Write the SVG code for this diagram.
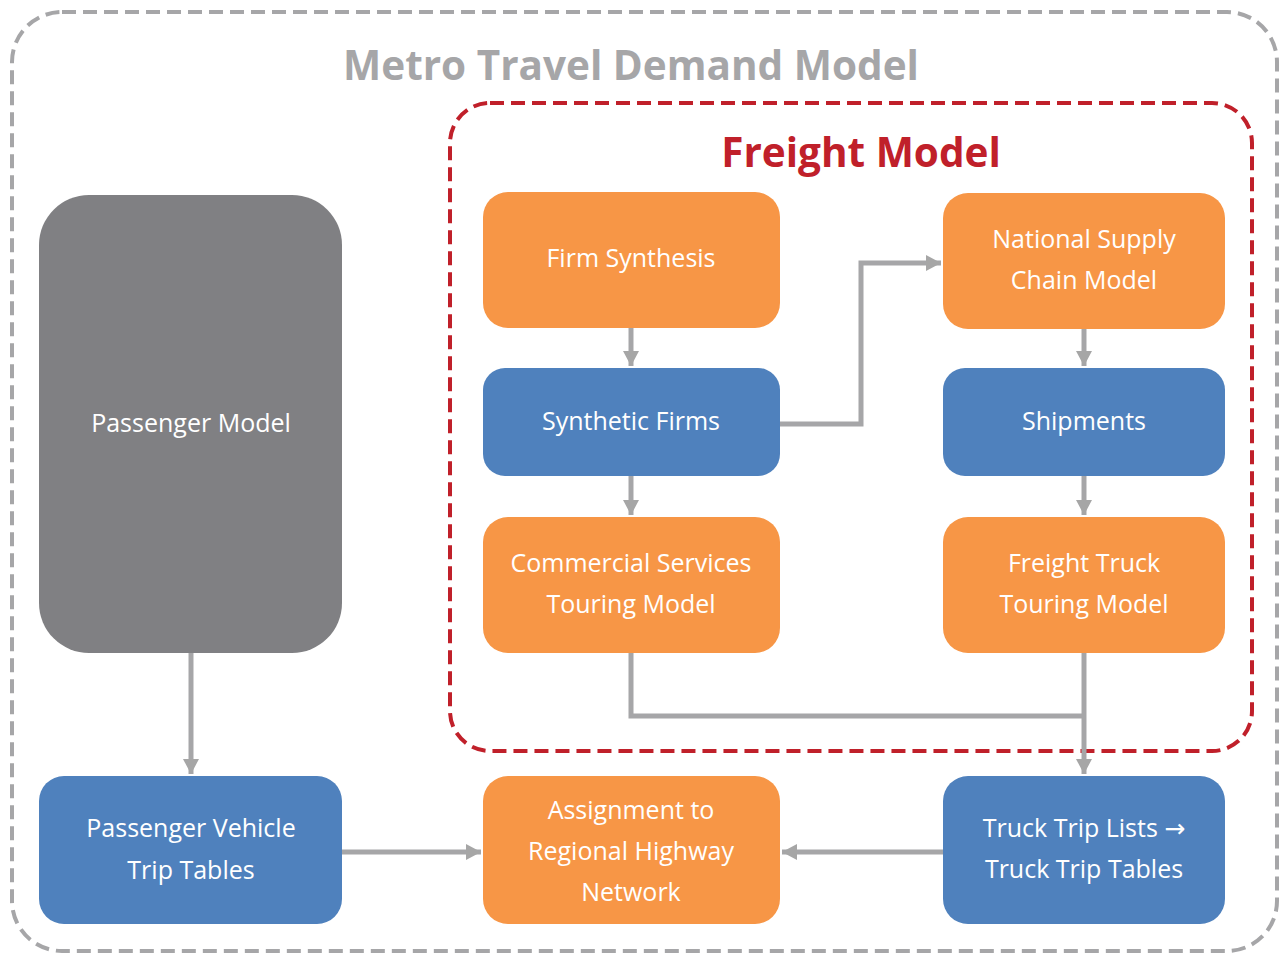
<svg xmlns="http://www.w3.org/2000/svg" width="1285" height="956" viewBox="0 0 1285 956">
<defs>
<marker id="ah" markerWidth="4" markerHeight="4" refX="3" refY="2" orient="auto" markerUnits="strokeWidth">
<path d="M0,0.4 L3,2 L0,3.6 Z" fill="#a6a6a6"/>
</marker>
<style>
.t{font-family:"Open Sans","Noto Sans","Liberation Sans",sans-serif;font-size:25px;fill:#ffffff;text-anchor:middle}
.or{fill:#f79646}
.bl{fill:#4f81bd}
.gr{fill:#808083}
.c{fill:none;stroke:#a6a6a8;stroke-width:5;marker-end:url(#ah)}
.cn{fill:none;stroke:#a6a6a8;stroke-width:5}
</style>
</defs>
<rect width="1285" height="956" fill="#ffffff"/>
<g id="metro">
<rect x="12" y="12" width="1265" height="939" rx="50" fill="none" stroke="#a6a6a8" stroke-width="4" stroke-dasharray="14 7"/>
<text x="631" y="80" font-family="'Open Sans','Noto Sans','Liberation Sans',sans-serif" font-size="40.5" font-weight="bold" fill="#a6a6a8" text-anchor="middle">Metro Travel Demand Model</text>
</g>
<g id="freight">
<rect x="450" y="103" width="802" height="648" rx="40" fill="none" stroke="#c0202a" stroke-width="4" stroke-dasharray="14 7"/>
<text x="861" y="167" font-family="'Open Sans','Noto Sans','Liberation Sans',sans-serif" font-size="40.5" font-weight="bold" fill="#c0202a" text-anchor="middle">Freight Model</text>
</g>
<g id="connectors">
<path class="c" d="M631,328 V366"/>
<path class="c" d="M780,424 H861 V263 H941"/>
<path class="c" d="M1084,329 V366"/>
<path class="c" d="M631,476 V515"/>
<path class="c" d="M1084,476 V515"/>
<path class="cn" d="M631,653 V716 H1084"/>
<path class="c" d="M1084,653 V774"/>
<path class="c" d="M191,653 V774"/>
<path class="c" d="M342,852 H481"/>
<path class="c" d="M943,852 H782"/>
</g>
<g id="firm-synthesis">
<rect class="or" x="483" y="192" width="297" height="136" rx="25"/>
<text class="t" x="631" y="267">Firm Synthesis</text>
</g>
<g id="national-supply-chain">
<rect class="or" x="943" y="193" width="282" height="136" rx="25"/>
<text class="t" x="1084" y="248">National Supply</text>
<text class="t" x="1084" y="289">Chain Model</text>
</g>
<g id="synthetic-firms">
<rect class="bl" x="483" y="368" width="297" height="108" rx="22"/>
<text class="t" x="631" y="430">Synthetic Firms</text>
</g>
<g id="shipments">
<rect class="bl" x="943" y="368" width="282" height="108" rx="22"/>
<text class="t" x="1084" y="430">Shipments</text>
</g>
<g id="commercial-services">
<rect class="or" x="483" y="517" width="297" height="136" rx="25"/>
<text class="t" x="631" y="572">Commercial Services</text>
<text class="t" x="631" y="613">Touring Model</text>
</g>
<g id="freight-truck">
<rect class="or" x="943" y="517" width="282" height="136" rx="25"/>
<text class="t" x="1084" y="572">Freight Truck</text>
<text class="t" x="1084" y="613">Touring Model</text>
</g>
<g id="passenger-model">
<rect class="gr" x="39" y="195" width="303" height="458" rx="50"/>
<text class="t" x="191" y="432">Passenger Model</text>
</g>
<g id="passenger-vehicle">
<rect class="bl" x="39" y="776" width="303" height="148" rx="25"/>
<text class="t" x="191" y="837">Passenger Vehicle</text>
<text class="t" x="191" y="879">Trip Tables</text>
</g>
<g id="assignment">
<rect class="or" x="483" y="776" width="297" height="148" rx="25"/>
<text class="t" x="631" y="819">Assignment to</text>
<text class="t" x="631" y="860">Regional Highway</text>
<text class="t" x="631" y="901">Network</text>
</g>
<g id="truck-trip">
<rect class="bl" x="943" y="776" width="282" height="148" rx="25"/>
<text class="t" x="1084" y="837">Truck Trip Lists <tspan font-family="'DejaVu Sans',sans-serif">→</tspan></text>
<text class="t" x="1084" y="878">Truck Trip Tables</text>
</g>
</svg>
